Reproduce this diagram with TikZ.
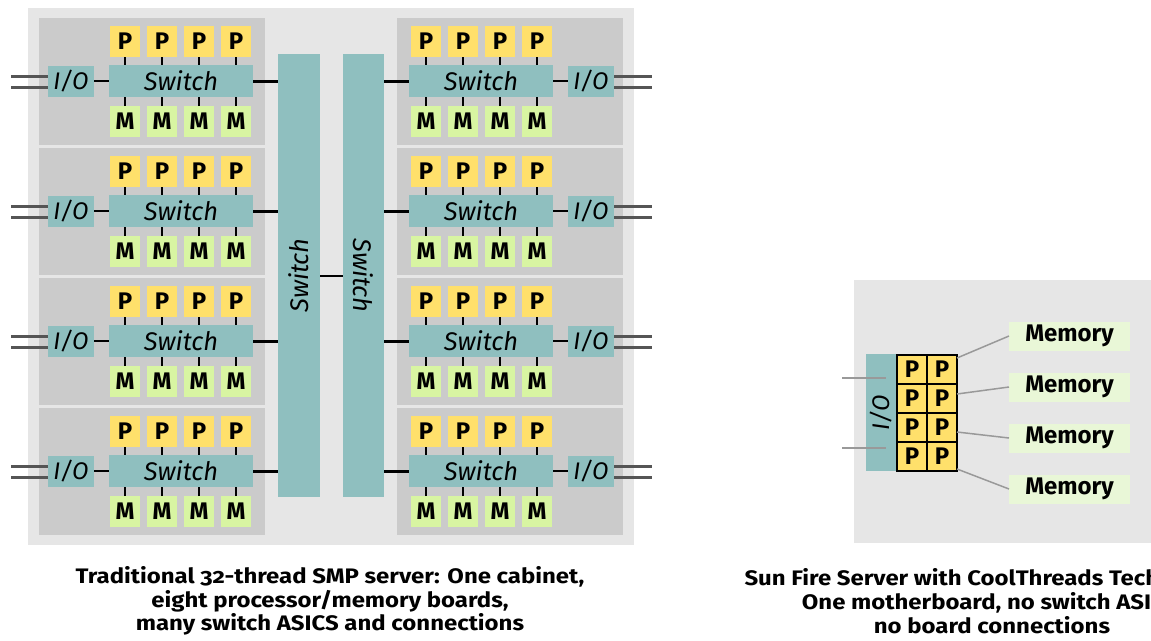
\documentclass[tikz,border=0pt]{standalone}
\usepackage{fontspec}
\setmainfont{Fira Sans}
\newfontfamily\capfont[FakeStretch=1.14,Numbers=OldStyle]{Fira Sans}
\usetikzlibrary{calc}

\definecolor{cabinet}{HTML}{E6E6E6}
\definecolor{board}{HTML}{CBCBCB}
\definecolor{pcol}{HTML}{FFE06B}
\definecolor{mcol}{HTML}{D8F5A2}
\definecolor{swcol}{HTML}{8FBFBF}
\definecolor{memcol}{HTML}{E9F7D7}
\definecolor{iowire}{HTML}{555555}
\definecolor{graywire}{HTML}{999999}

\newcommand{\swfont}{\itshape\fontsize{25.5}{25.5}\selectfont}

\tikzset{
  cell/.style={inner sep=0pt, outer sep=0pt, font=\bfseries\fontsize{24}{24}\selectfont},
  pbox/.style={cell, fill=pcol, minimum width=30pt, minimum height=31pt},
  mbox/.style={cell, fill=mcol, minimum width=30pt, minimum height=31pt},
  swbox/.style={inner sep=0pt, outer sep=0pt, fill=swcol, minimum width=144pt, minimum height=32pt,
    font=\swfont},
  iobox/.style={inner sep=0pt, outer sep=0pt, fill=swcol, minimum width=46pt, minimum height=31pt,
    font=\itshape\fontsize{24}{24}\selectfont},
  bigsw/.style={inner sep=0pt, outer sep=0pt, fill=swcol, minimum width=42pt, minimum height=443pt},
  link/.style={draw=black, line width=1.5pt},
  trunk/.style={draw=black, line width=3pt},
  extwire/.style={draw=iowire, line width=3pt},
  pcell/.style={cell, fill=pcol, draw=black, line width=1.5pt, minimum width=30pt, minimum height=29pt},
  membox/.style={cell, fill=memcol, minimum width=121pt, minimum height=29pt, font=\bfseries\fontsize{24}{24}\selectfont},
  thin/.style={draw=graywire, line width=1.5pt},
  caption/.style={align=center, font=\capfont\bfseries\fontsize{21}{23.8}\selectfont}
}

\begin{document}
\begin{tikzpicture}[x=1pt, y=-1pt]
\clip (0,0) rectangle (1151,640);
\useasboundingbox (0,0) rectangle (1151,640);
\fill[white] (0,0) rectangle (1151,640);

% cabinet with eight boards
\fill[cabinet] (28,8) rectangle (634,545);

% the two central switches
\node[bigsw] (bigL) at (299,275.5) {\rotatebox{90}{\swfont Switch}};
\node[bigsw, minimum width=41pt] (bigR) at (363.5,275.5) {\rotatebox{-90}{\swfont Switch}};
\draw[link] (bigL.east |- 0,276) -- (bigR.west |- 0,276);

\foreach \r in {0,1,2,3}{
  \pgfmathsetmacro{\o}{130*\r}
  % left board
  \fill[board] (39,18+\o) rectangle (265,145+\o);
  \node[swbox] (swL\r) at (181,81+\o) {Switch};
  \node[iobox] (ioL\r) at (71,81.5+\o) {I/O};
  \draw[link] (ioL\r.east |- swL\r.west) -- (swL\r.west);
  \draw[trunk] (swL\r.east) -- (bigL.west |- swL\r.east);
  \coordinate (extLa\r) at (11,76+\o);
  \coordinate (extLb\r) at (11,87+\o);
  \draw[extwire] (extLa\r) -- (ioL\r.west |- extLa\r);
  \draw[extwire] (extLb\r) -- (ioL\r.west |- extLb\r);
  \foreach \c/\x in {0/125,1/162,2/199,3/236}{
    \node[pbox] (pL\r\c) at (\x,41.5+\o) {P};
    \node[mbox] (mL\r\c) at (\x,121.5+\o) {M};
    \draw[link] (pL\r\c.south) -- (pL\r\c.south |- swL\r.north);
    \draw[link] (mL\r\c.north) -- (mL\r\c.north |- swL\r.south);
  }
  % right board
  \fill[board] (397,18+\o) rectangle (623,145+\o);
  \node[swbox] (swR\r) at (481,81+\o) {Switch};
  \node[iobox] (ioR\r) at (591,81.5+\o) {I/O};
  \draw[link] (swR\r.east) -- (ioR\r.west |- swR\r.east);
  \draw[trunk] (bigR.east |- swR\r.west) -- (swR\r.west);
  \coordinate (extRa\r) at (652,76+\o);
  \coordinate (extRb\r) at (652,87+\o);
  \draw[extwire] (ioR\r.east |- extRa\r) -- (extRa\r);
  \draw[extwire] (ioR\r.east |- extRb\r) -- (extRb\r);
  \foreach \c/\x in {0/426,1/463,2/500,3/537}{
    \node[pbox] (pR\r\c) at (\x,41.5+\o) {P};
    \node[mbox] (mR\r\c) at (\x,121.5+\o) {M};
    \draw[link] (pR\r\c.south) -- (pR\r\c.south |- swR\r.north);
    \draw[link] (mR\r\c.north) -- (mR\r\c.north |- swR\r.south);
  }
}

% single motherboard
\fill[cabinet] (854,280) rectangle (1160,543);
\node[inner sep=0pt, outer sep=0pt, fill=swcol, minimum width=31pt, minimum height=117pt] (io) at (881.5,412.5)
  {\rotatebox{90}{\itshape\fontsize{24}{24}\selectfont I/O}};
\foreach \r in {0,1,2,3}{
  \foreach \c in {0,1}{
    \node[pcell] (c\r\c) at (912+30*\c,369.5+29*\r) {P};
  }
}
\foreach \k/\y in {0/336,1/387,2/438,3/489}{
  \node[membox] (mem\k) at (1069.5,\y) {Memory};
}
\draw[thin] ($(c01.north east)+(0,3)$) -- (mem0.west);
\draw[thin] ($(c11.north east)+(0,10)$) -- (mem1.west);
\draw[thin] ($(c21.north east)+(0,19)$) -- (mem2.west);
\draw[thin] ($(c31.south east)+(0,-2)$) -- (mem3.west);
\coordinate (ioa) at (842,378);
\coordinate (iob) at (842,448);
\draw[thin] (ioa) -- ($(io.west |- ioa)+(20,0)$);
\draw[thin] (iob) -- ($(io.west |- iob)+(20,0)$);

% captions
\node[caption] (cap1) at (330,601) {Traditional 32-thread SMP server: One cabinet,\\eight processor/memory boards,\\many switch ASICS and connections};
\node[caption] (cap2) at (992,601) {Sun Fire Server with CoolThreads Technology:\\One motherboard, no switch ASICs,\\no board connections};
\end{tikzpicture}
\end{document}
